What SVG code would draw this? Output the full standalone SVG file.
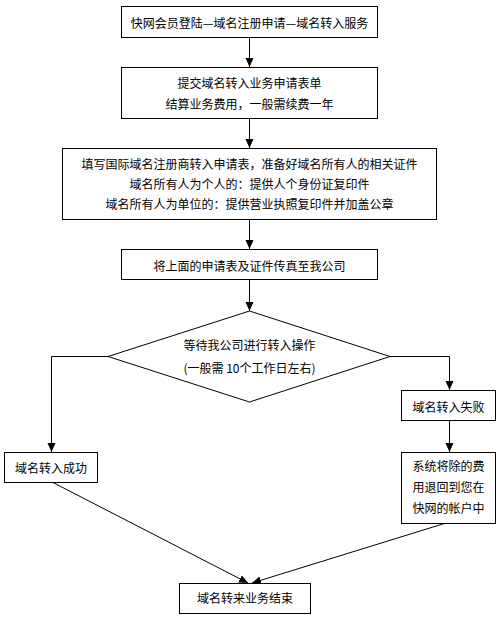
<svg xmlns="http://www.w3.org/2000/svg" width="500" height="620" viewBox="0 0 500 620">
<defs>
<marker id="arr" markerUnits="userSpaceOnUse" markerWidth="10" markerHeight="10" viewBox="0 0 10 10" refX="9" refY="5" orient="auto">
<path d="M0,1 L9,5 L0,9 Z" fill="#000"/>
</marker>
<style>
.box{fill:#fff;stroke:#000;stroke-width:1}
.t{font-family:"Noto Sans CJK SC","Liberation Sans",sans-serif;font-size:12px;fill:#000;text-anchor:middle;dominant-baseline:central}
.c{fill:none;stroke:#000;stroke-width:1;marker-end:url(#arr)}
</style>
</defs>
<rect width="500" height="620" fill="#fff"/>
<g id="connectors">
<path class="c" d="M249.5,37 V67"/>
<path class="c" d="M249.5,118 V148"/>
<path class="c" d="M249.5,219 V249"/>
<path class="c" d="M249.5,279 V311"/>
<path class="c" d="M108,356.5 H51.5 V452"/>
<path class="c" d="M390,356.5 H449.5 V390"/>
<path class="c" d="M449.5,420 V452"/>
<path class="c" d="M52,482 L248,583"/>
<path class="c" d="M446,523 L252,583"/>
</g>
<g id="n1"><rect class="box" x="121.5" y="6.5" width="256" height="31"/><text class="t" x="249.5" y="22">快网会员登陆—域名注册申请—域名转入服务</text></g>
<g id="n2"><rect class="box" x="121.5" y="67.5" width="256" height="51"/><text class="t" x="249.5" y="82">提交域名转入业务申请表单</text><text class="t" x="249.5" y="103">结算业务费用，一般需续费一年</text></g>
<g id="n3"><rect class="box" x="62.5" y="148.5" width="374" height="71"/><text class="t" x="249.5" y="163">填写国际域名注册商转入申请表，准备好域名所有人的相关证件</text><text class="t" x="249.5" y="183">域名所有人为个人的：提供人个身份证复印件</text><text class="t" x="249.5" y="203">域名所有人为单位的：提供营业执照复印件并加盖公章</text></g>
<g id="n4"><rect class="box" x="121.5" y="249.5" width="256" height="30"/><text class="t" x="249.5" y="265">将上面的申请表及证件传真至我公司</text></g>
<g id="n5"><polygon class="box" points="249.5,311 390,356.5 249.5,402 108,356.5"/><text class="t" x="249.5" y="344">等待我公司进行转入操作</text><text class="t" x="249.5" y="367">(一般需 10个工作日左右)</text></g>
<g id="n6"><rect class="box" x="401.5" y="390.5" width="94" height="30"/><text class="t" x="448.5" y="406">域名转入失败</text></g>
<g id="n7"><rect class="box" x="4.5" y="452.5" width="93" height="30"/><text class="t" x="51" y="467">域名转入成功</text></g>
<g id="n8"><rect class="box" x="401.5" y="452.5" width="94" height="71"/><text class="t" x="448.5" y="465">系统将除的费</text><text class="t" x="448.5" y="486">用退回到您在</text><text class="t" x="448.5" y="507">快网的帐户中</text></g>
<g id="n9"><rect class="box" x="179.5" y="583.5" width="131" height="30"/><text class="t" x="245" y="597">域名转来业务结束</text></g>
</svg>
